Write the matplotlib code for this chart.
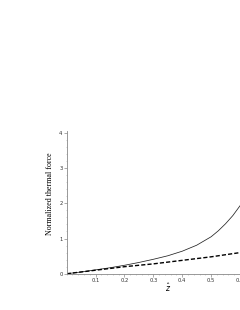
import numpy as np
import matplotlib
matplotlib.use('Agg')
import matplotlib.pyplot as plt
from matplotlib.ticker import MultipleLocator

z = [0.0, 0.05, 0.1, 0.15, 0.2, 0.25, 0.3, 0.35, 0.4, 0.45, 0.5, 0.525, 0.55, 0.575, 0.6]
force_full = [0.0, 0.05, 0.11, 0.17, 0.24, 0.32, 0.41, 0.51, 0.64, 0.81, 1.05, 1.22, 1.42, 1.65, 1.93]
force_lin = [0.0, 0.05, 0.10, 0.15, 0.20, 0.24, 0.28, 0.33, 0.38, 0.43, 0.48, 0.51, 0.54, 0.57, 0.60]

xticks = [0.1, 0.2, 0.3, 0.4, 0.5, 0.6]
yticks = [0, 1, 2, 3, 4]

fig = plt.figure(figsize=(2.4, 3.1), dpi=100)
ax = fig.add_axes([0.278, 0.117, 0.722, 0.46])

ax.plot(z, force_full, color='#222222', lw=0.55)
ax.plot(z, force_lin, color='black', lw=1.0, ls=(0, (3, 1.5)))

ax.set_xlim(0, 0.6)
ax.set_ylim(0, 4.05)
ax.spines['top'].set_visible(False)
ax.spines['right'].set_visible(False)
for s in ['left', 'bottom']:
    ax.spines[s].set_color('#888888')
    ax.spines[s].set_linewidth(0.6)

ax.set_xticks(xticks)
ax.set_xticklabels([str(t) for t in xticks])
ax.set_yticks(yticks)
ax.set_yticklabels([str(t) for t in yticks])
ax.xaxis.set_minor_locator(MultipleLocator(0.02))
ax.yaxis.set_minor_locator(MultipleLocator(0.2))
ax.tick_params(axis='both', which='major', length=2, width=0.5, color='#888888',
               labelsize=3.8, pad=1, labelcolor='#333333')
ax.tick_params(axis='both', which='minor', length=1, width=0.4, color='#aaaaaa')

ax.set_ylabel('Normalized thermal force', family='Liberation Serif', fontsize=5.8)
ax.yaxis.set_label_coords(-0.074, 0.56)
ax.set_xlabel(r'$\hat{z}$', fontsize=5.5)
ax.xaxis.set_label_coords(0.585, -0.055)

fig.savefig('out.png', dpi=100)
